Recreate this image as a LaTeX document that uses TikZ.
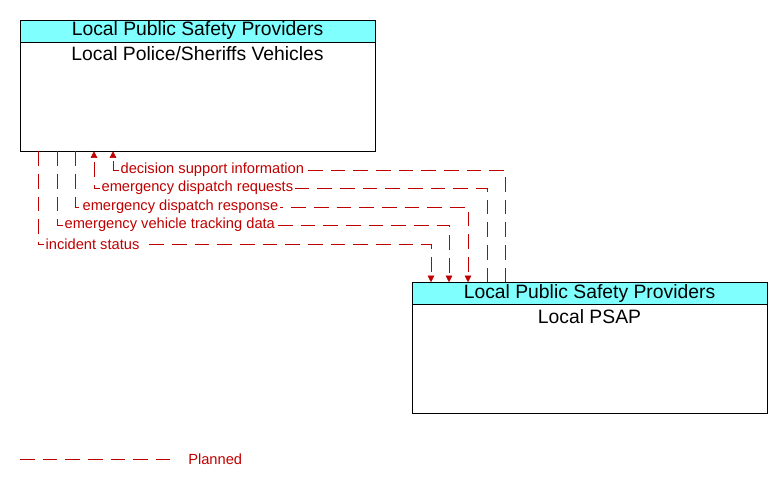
\documentclass[tikz,border=0pt]{standalone}
\usepackage{fontspec}
\setmainfont{Liberation Sans}
\usetikzlibrary{arrows.meta,positioning}
\definecolor{flowred}{RGB}{192,0,0}
\definecolor{headcyan}{RGB}{128,255,255}
\tikzset{
  elembox/.style={draw,minimum width=266.25pt,minimum height=98.25pt,inner sep=0pt},
  elemhead/.style={draw,fill=headcyan,minimum width=266.25pt,minimum height=16.5pt,inner sep=0pt,font=\fontsize{14.5}{15}\selectfont},
  elemname/.style={font=\fontsize{14.5}{15}\selectfont,inner sep=0pt},
  flow/.style={draw=flowred,dash pattern=on 11pt off 6pt},
  flowarrow/.style={flow,-{Triangle[length=5pt,width=5pt]}},
  flowlabel/.style={text=flowred,fill=white,inner sep=1pt,anchor=west,font=\fontsize{11}{12}\selectfont}
}
\begin{document}
\begin{tikzpicture}[x=0.75pt,y=-0.75pt]
  \useasboundingbox (0,0) rectangle (782,485);
  % elements
  \node (police) [elembox] at (197.5,85.5) {};
  \node (policehead) [elemhead,anchor=north] at (police.north) {Local Public Safety Providers};
  \node (policename) [elemname,below=3pt of policehead] {Local Police/Sheriffs Vehicles};
  \node (psap) [elembox] at (589.5,348) {};
  \node (psaphead) [elemhead,anchor=north] at (psap.north) {Local Public Safety Providers};
  \node (psapname) [elemname,below=3pt of psaphead] {Local PSAP};

  % flows
  \draw[flowarrow] (38,0 |- police.south) -- (38,244) -- (431,244) -- (431,0 |- psap.north);
  \draw[flowarrow] (57,0 |- police.south) -- (57,225) -- (449,225) -- (449,0 |- psap.north);
  \draw[flowarrow] (75,0 |- police.south) -- (75,207) -- (468,207) -- (468,0 |- psap.north);
  \draw[flowarrow] (487,0 |- psap.north) -- (487,188) -- (94,188) -- (94,0 |- police.south);
  \draw[flowarrow] (505,0 |- psap.north) -- (505,170) -- (113,170) -- (113,0 |- police.south);
  \node (lbl1) [flowlabel] at (44,244) {incident status};
  \node (lbl2) [flowlabel] at (63,225) {emergency vehicle tracking data};
  \node (lbl3) [flowlabel] at (81,207) {emergency dispatch response};
  \node (lbl4) [flowlabel] at (100,188) {emergency dispatch requests};
  \node (lbl5) [flowlabel] at (119,170) {decision support information};

  % legend
  \coordinate (legA) at (20,459);
  \coordinate (legB) at (170,459);
  \draw[flow] (legA) -- (legB);
  \node (planned) [text=flowred,anchor=west,inner sep=0pt,font=\fontsize{11}{12}\selectfont] at (188,459) {Planned};
\end{tikzpicture}
\end{document}
